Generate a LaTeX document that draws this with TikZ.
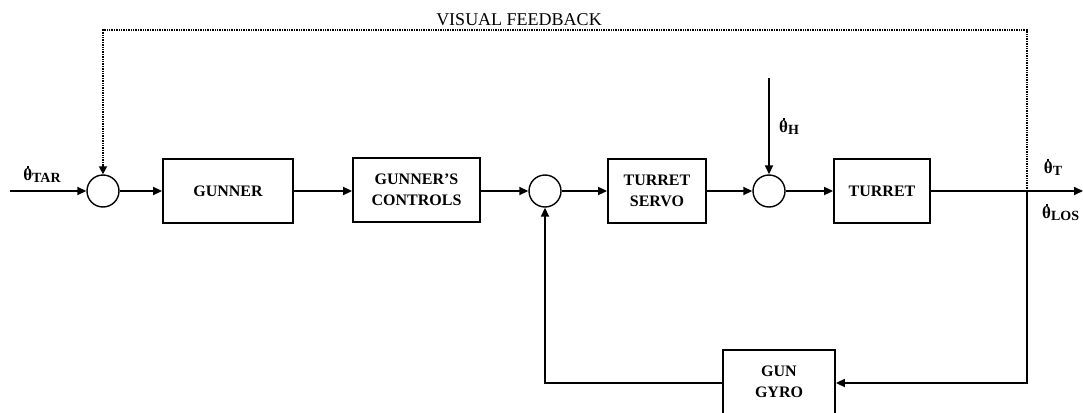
\documentclass[tikz,border=0pt]{standalone}
\usepackage{fontspec}
\setmainfont{Liberation Serif}
\usetikzlibrary{arrows.meta}
\newcommand\tdot{\leavevmode\rlap{\kern0.21em\raisebox{0.78em}{\rule{2pt}{2pt}}}θ}
\newcommand\tsub[1]{\raisebox{-1.5pt}{\fontsize{14}{14}\selectfont #1}}
\begin{document}
\begin{tikzpicture}[x=1pt,y=-1pt,
  blk/.style={draw,line width=1.8pt,minimum width=#1,minimum height=64pt,inner sep=0pt,align=center,
    font=\fontsize{16}{21}\selectfont\bfseries},
  sumj/.style={draw,circle,line width=1.4pt,minimum size=32pt,inner sep=0pt},
  sig/.style={line width=1.7pt},
  arr/.style={sig,-{Triangle[length=9pt,width=8pt]}},
  fb/.style={line width=1.4pt,densely dotted},
  lbl/.style={inner sep=0pt,font=\fontsize{17}{17}\selectfont\bfseries}]
\useasboundingbox (0,0) rectangle (1083,412);
\node[sumj] (s1) at (103,191) {};
\node[blk=130pt] (gunner) at (228,191) {GUNNER};
\node[blk=127pt] (controls) at (416.5,190) {GUNNER'S\\CONTROLS};
\node[sumj] (s2) at (545,191) {};
\node[blk=98pt] (servo) at (657,191) {TURRET\\SERVO};
\node[sumj] (s3) at (769,191) {};
\node[blk=96pt] (turret) at (882,191) {TURRET};
\node[blk=112pt] (gyro) at (779,382) {GUN\\GYRO};
\coordinate (in) at (10,191);
\coordinate (out) at (1083,191);
\coordinate (br) at (1027,191);
\coordinate (brd) at (1027,383);
\coordinate (lft) at (545,383);
\coordinate (top) at (769,78);
\coordinate (fbr) at (1027,30);
\coordinate (fbl) at (103,30);
\draw[arr] (in) -- (s1);
\draw[arr] (s1) -- (gunner);
\draw[arr] (gunner) -- (controls.west |- gunner.east);
\draw[arr] (controls.east |- s2.west) -- (s2);
\draw[arr] (s2) -- (servo);
\draw[arr] (servo) -- (s3);
\draw[arr] (top) -- (s3);
\draw[arr] (s3) -- (turret);
\draw[arr] (turret) -- (out);
\draw[arr] (br) -- (brd) -- (gyro.east |- brd);
\draw[arr] (gyro.west |- lft) -- (lft) -- (s2);
\draw[fb] (br) -- (fbr) -- (fbl) -- ([yshift=8pt]s1.north);
\draw[sig,-{Triangle[length=8pt,width=8pt]}] ([yshift=9pt]s1.north) -- (s1.north);
\node[inner sep=0pt,font=\fontsize{18}{18}\selectfont] (vf) at (519,20) {VISUAL FEEDBACK};
\node[lbl] (ltar) at (42,174) {\tdot\tsub{TAR}};
\node[lbl] (lh) at (789,126) {\tdot\tsub{H}};
\node[lbl] (lt) at (1053,167) {\tdot\tsub{T}};
\node[lbl,anchor=west] (llos) at (1042,212) {\tdot\tsub{LOS}};
\end{tikzpicture}
\end{document}
